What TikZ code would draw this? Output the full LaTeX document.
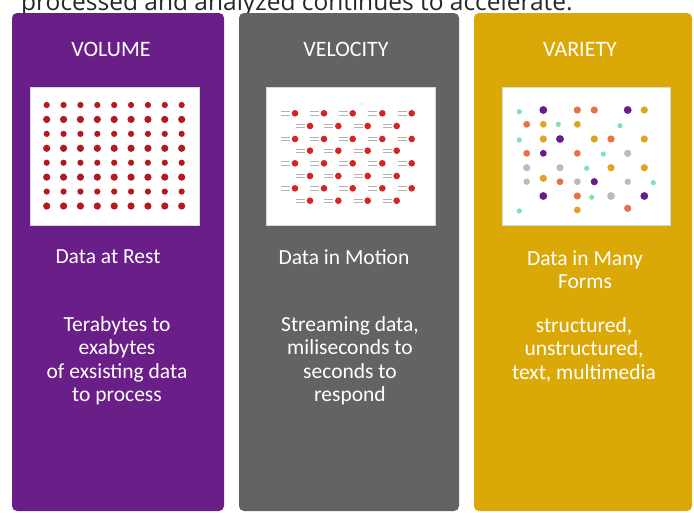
\documentclass[tikz,border=0pt]{standalone}
\usepackage{fontspec}
\setmainfont{Carlito}
\newfontfamily\topfont{Open Sans}
\definecolor{volpurple}{HTML}{6A1E88}
\definecolor{velgray}{HTML}{636363}
\definecolor{vargold}{HTML}{DAA807}
\definecolor{dotred}{HTML}{B3191E}
\definecolor{velred}{HTML}{D42424}
\definecolor{vpurple}{HTML}{6A1B8A}
\definecolor{vorange}{HTML}{E8704A}
\definecolor{vgold}{HTML}{DDA520}
\definecolor{vteal}{HTML}{80E0B6}
\definecolor{vgray}{HTML}{BBBBBB}
\begin{document}
\begin{tikzpicture}[x=1pt,y=-1pt,
  panel/.style={rounded corners=5pt},
  titletext/.style={text=white,font=\fontsize{22}{24}\selectfont,inner sep=0pt},
  bodytext/.style={text=white,align=center,font=\fontsize{21.5}{23.5}\selectfont,inner sep=0pt},
  imgbox/.style={fill=white,draw=black!15,line width=0.8pt},
  streak/.style={draw=black!30,line width=0.6pt}
]
\useasboundingbox (0,0) rectangle (694,512);
\clip (0,0) rectangle (694,512);
\fill[white] (0,0) rectangle (694,512);
% heading line, cut at the top
\node[anchor=base west,inner sep=0pt,text=black!85,font=\topfont\fontsize{24.5}{28}\selectfont] (topline) at (21,10.5) {processed and analyzed continues to accelerate.};
% panels
\fill[volpurple,panel] (12,13) rectangle (224,511);
\fill[velgray,panel] (239,13) rectangle (459,511);
\fill[vargold,panel] (474,13) rectangle (692,511);
% titles
\node[titletext] (tvol) at (111,49) {VOLUME};
\node[titletext] (tvel) at (346,49) {VELOCITY};
\node[titletext] (tvar) at (580,49) {VARIETY};
% picture boxes
\draw[imgbox] (30,87) rectangle (199,225);
\draw[imgbox] (266,87) rectangle (435,225);
\draw[imgbox] (502,87) rectangle (670,225);
% volume dots
\foreach \j in {0,...,7}{
  \pgfmathsetmacro{\rr}{mod(\j,2)==0 ? 3.1 : 3.6}
  \foreach \i in {0,...,8}{
    \fill[dotred] ({46.7+16.87*\i},{105+14.43*\j}) circle (\rr);
  }
}
% velocity dots with streaks
\foreach \yy in {113.3,139,163.3,188.3}{
  \foreach \xx in {295,324,352.7,382.3,411.7}{
    \draw[streak] (\xx-14,\yy-1.6) -- (\xx-5,\yy-1.6);
    \draw[streak] (\xx-14,\yy+1.6) -- (\xx-5,\yy+1.6);
    \fill[velred] (\xx,\yy) circle (3.3);
  }
}
\foreach \yy in {126,150.7,176,200.7}{
  \foreach \xx in {310,338.3,367.7,396.7}{
    \draw[streak] (\xx-14,\yy-1.6) -- (\xx-5,\yy-1.6);
    \draw[streak] (\xx-14,\yy+1.6) -- (\xx-5,\yy+1.6);
    \fill[velred] (\xx,\yy) circle (3.3);
  }
}
\fill[velred!60] (362,104) circle (0.6);
% variety dots
\foreach \xx/\yy/\cc/\rr in {
  519.3/111.7/vteal/2.6, 543.3/110/vpurple/3.9, 577.3/110/vorange/3.6, 594.3/110/vorange/3.6,
  627.7/110/vpurple/3.9, 644.3/110/vgold/3.6,
  526.7/124.3/vorange/3.4, 543.3/124.3/vgold/3.4, 558.3/124.3/vteal/2.6, 577.3/124.3/vgold/3.4,
  620/125.7/vteal/2.6,
  519.3/140/vteal/2.6, 543.3/139/vgold/3.6, 560/139/vpurple/3.9, 594.3/139/vgold/3.6,
  611/139/vorange/3.6, 644.3/139/vgold/3.6,
  526.7/153.3/vorange/3.4, 543.3/153.3/vpurple/3.4, 577.3/153.3/vorange/3.4, 603.3/154/vteal/2.6,
  627.7/153.3/vgray/3.6,
  526.7/167.7/vgray/3.6, 560/167.7/vgray/3.6, 586.7/168.3/vteal/2.6, 611/167.7/vgold/3.6,
  644.3/167.7/vgold/3.6,
  526.7/181.7/vgray/3.2, 543.3/178.3/vgold/3.6, 560/181.7/vorange/3.4, 577.3/181.7/vgray/3.4,
  594.3/181.7/vpurple/3.6, 627.7/181.7/vgray/3.2, 653.3/182.7/vteal/2.6,
  543.3/196/vpurple/3.9, 577.3/196/vorange/3.6, 591.7/197.3/vteal/2.6, 611/196/vgray/3.9,
  644.3/196/vpurple/3.9,
  519.3/211/vteal/2.6, 577.3/210/vgold/3.4, 627.7/208.3/vorange/3.6}{
  \fill[\cc] (\xx,\yy) circle (\rr);
}
% captions
\node[bodytext] (hvol) at (108,257) {Data at Rest};
\node[bodytext] (hvel) at (344,257) {Data in Motion};
\node[bodytext] (hvar) at (585,269.5) {Data in Many\\Forms};
\node[bodytext] (bvol) at (117,361) {Terabytes to\\exabytes\\of exsisting data\\to process};
\node[bodytext] (bvel) at (350,361) {Streaming data,\\miliseconds to\\seconds to\\respond};
\node[bodytext] (bvar) at (584,349.5) {structured,\\unstructured,\\text, multimedia};
\end{tikzpicture}
\end{document}
